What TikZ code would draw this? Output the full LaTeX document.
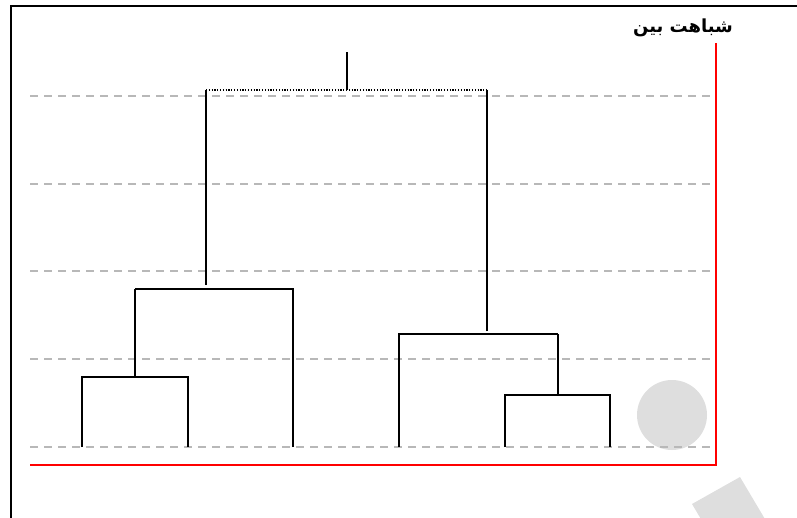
\documentclass[tikz,border=0pt]{standalone}
\usepackage{fontspec}
\newfontfamily\arabicfont[Script=Arabic]{DejaVu Sans}
\TeXXeTstate=1
\begin{document}
\begin{tikzpicture}[x=1pt,y=-1pt,
  frameline/.style={line width=1.5pt,black},
  gridline/.style={line width=1.9pt,color=black!28,dash pattern=on 8pt off 6pt},
  axisline/.style={line width=1.7pt,red},
  treeline/.style={line width=1.6pt,black},
  rootline/.style={line width=1.2pt,black,dash pattern=on 1.2pt off 1.6pt},
  decor/.style={fill=black!13,draw=none}]
\useasboundingbox (0,0) rectangle (797,518);
% decorations
\fill[decor] (672,415) circle (35);
\begin{scope}
\clip (0,0) rectangle (797,518);
\fill[decor] (692,504) -- (740,477) -- (775,536) -- (727,563) -- cycle;
\end{scope}
% frame
\draw[frameline] (11,518) -- (11,6) -- (797,6);
% grid lines
\foreach \yy in {96,184,271,359,447} {
  \draw[gridline] (30,\yy) -- (716,\yy);
}
% axes
\coordinate (ax0) at (30,465);
\coordinate (ax1) at (716,465);
\coordinate (ax2) at (716,43);
\draw[axisline] (ax0) -- (ax1) -- (ax2);
% label
\node[anchor=center,inner sep=0pt] (lbl) at (683,28) {\arabicfont\bfseries\fontsize{18}{20}\selectfont\beginR شباهت بین\endR};
% leaves
\coordinate (l1) at (82,447);
\coordinate (l2) at (188,447);
\coordinate (l3) at (293,447);
\coordinate (l4) at (399,447);
\coordinate (l5) at (505,447);
\coordinate (l6) at (610,447);
% merges
\coordinate (a1) at (82,377);  \coordinate (a2) at (188,377);
\coordinate (as) at (135,377); \coordinate (at) at (135,289);
\coordinate (b1) at (135,289); \coordinate (b2) at (293,289);
\coordinate (bs) at (206,285); \coordinate (bt) at (206,90);
\coordinate (c1) at (505,395); \coordinate (c2) at (610,395);
\coordinate (cs) at (558,395); \coordinate (ct) at (558,334);
\coordinate (d1) at (399,334); \coordinate (d2) at (558,334);
\coordinate (ds) at (487,331); \coordinate (dt) at (487,90);
\coordinate (r1) at (206,90);  \coordinate (r2) at (487,90);
\coordinate (rs) at (347,90);  \coordinate (rt) at (347,52);
% tree
\draw[treeline] (l1) -- (a1) -- (a2) -- (l2);
\draw[treeline] (as) -- (at);
\draw[treeline] (l3) -- (b2) -- (b1);
\draw[treeline] (bs) -- (bt);
\draw[treeline] (l5) -- (c1) -- (c2) -- (l6);
\draw[treeline] (cs) -- (ct);
\draw[treeline] (l4) -- (d1) -- (d2);
\draw[treeline] (ds) -- (dt);
\draw[rootline] (r1) -- (r2);
\draw[treeline] (rs) -- (rt);
\end{tikzpicture}
\end{document}
